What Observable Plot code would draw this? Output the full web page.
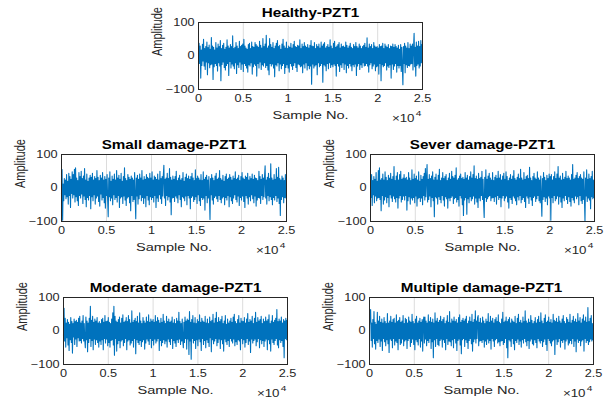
<!DOCTYPE html>
<html><head><meta charset="utf-8">
<script src="https://cdn.jsdelivr.net/npm/d3@7"></script>
<script src="https://cdn.jsdelivr.net/npm/@observablehq/plot@0.6"></script>
<style>
html,body{margin:0;padding:0;background:#fff;}
#fig{position:relative;width:606px;height:399px;background:#fff;overflow:hidden;}
#fig svg{position:absolute;}
</style></head>
<body><div id="fig"></div>
<script>
const titles = ["Healthy-PZT1","Small damage-PZT1","Sever damage-PZT1","Moderate damage-PZT1","Multiple damage-PZT1"];
const xTicks = [0,5000,10000,15000,20000,25000];
const yTicks = [-100,0,100];
const totalSamples = 25000;

const healthy = [
5,38,-22,30,-66,18,-28,35,-15,50,-30,22,-40,28,-18,42,-56,25,-20,33,
-35,20,-26,55,-24,30,-70,26,-32,18,-22,40,-28,24,-45,36,-20,28,-30,46,
-74,22,-25,32,-18,38,-34,20,-42,26,-28,48,-22,30,-58,24,-16,34,-36,28,
-24,60,-30,22,-38,26,-20,40,-52,30,-26,22,-34,44,-18,28,-40,32,-24,36,
-46,50,-22,30,-28,24,-36,20,-48,34,-26,38,-30,22,-20,42,-54,28,-32,26,
-24,40,-28,34,-60,30,-22,26,-36,44,-18,32,-40,24,-26,52,-30,28,-20,36,
-34,62,-28,24,-42,30,-56,52,-22,34,-30,26,-24,40,-36,22,-62,30,-26,38,
-30,46,-20,28,-44,32,-24,20,-38,36,-28,50,-22,30,-52,24,-34,42,-26,22,
-36,30,-48,26,-22,38,-30,24,-40,34,-28,44,-20,28,-34,26,-46,32,-24,30,
-26,48,-32,22,-30,36,-50,28,-24,40,-36,30,-20,26,-42,34,-28,24,-38,32,
-30,46,-84,30,-24,28,-36,40,-30,22,-26,34,-56,28,-20,36,-32,24,-28,42,
-22,30,-78,36,-26,40,-30,24,-44,28,-22,34,-38,26,-20,48,-34,30,-26,22,
-32,38,-24,44,-28,26,-60,30,-22,34,-30,40,-46,24,-26,36,-34,28,-20,30,
-40,26,-24,42,-50,32,-28,24,-36,30,-22,38,-30,26,-44,22,-26,34,-32,28,
-24,40,-58,28,-30,24,-22,36,-40,30,-26,22,-34,28,-20,32,-30,38,-28,26,
-22,54,-30,24,-48,36,-26,28,-20,34,-38,22,-30,40,-24,30,-44,26,-32,28,
-30,24,-54,34,-22,28,-74,30,-26,38,-32,22,-28,36,-20,30,-42,26,-30,34,
-34,22,-26,30,-66,28,-24,36,-40,26,-30,34,-22,28,-48,24,-28,32,-36,20,
-28,34,-46,26,-30,-86,28,-22,38,-50,30,-26,24,-34,40,-28,22,-30,36,-24,
30,-22,36,-42,24,68,-32,26,-60,42,-28,30,-24,44,-36,28,-30,46,-20,34,
4];

const smallDamage = [
-18,55,-96,12,-38,28,-20,24,-32,40,-26,20,-48,44,-22,34,-58,26,-16,48,
-30,40,-20,56,-42,60,-26,30,-38,22,-52,46,-22,34,-30,50,-18,28,-46,36,
-24,58,-34,24,-56,42,-28,20,-36,30,-22,38,-62,32,-26,44,-38,24,-20,34,
-48,28,-30,52,-24,32,-40,22,-54,38,-18,30,-36,46,-28,24,-44,34,-60,26,
-22,40,-32,-86,30,-26,48,-38,20,-30,36,-50,26,-20,42,-34,24,-28,52,-42,
30,-22,38,-58,26,-30,44,-26,20,-46,34,-24,60,-36,28,-52,22,-30,40,-26,
32,-44,26,-68,36,-22,30,-40,24,-34,46,-28,-92,30,-24,38,-48,26,-32,42,
-20,30,-38,52,-28,24,-46,34,-30,26,-56,40,-22,32,-36,28,-50,44,-26,30,
-34,48,-28,24,-42,36,-22,32,-58,26,-30,42,-40,24,-20,50,-32,28,-46,34,
-24,38,68,-30,26,-52,30,-22,44,-36,28,-26,58,-42,32,-80,24,-30,36,-28,
26,-40,34,-24,50,-30,22,-44,30,-20,38,-34,24,-56,28,-26,46,-30,20,-38,
32,-24,42,-50,28,-22,36,-30,26,-62,34,-28,44,-24,30,-40,22,-34,54,-26,
28,-46,36,-20,30,-38,24,-52,40,-28,22,-34,48,-30,26,-66,32,-22,38,-44,
24,-30,34,-26,-94,28,-20,40,-36,30,-48,22,-28,36,-24,44,-32,26,-40,30,
-22,52,-34,28,-44,24,-30,38,-26,20,-50,34,-28,42,-36,26,-22,30,-56,40,
-26,32,-38,24,-46,36,-30,28,-20,48,-34,26,-42,30,-24,38,-52,22,-28,34,
-36,46,-24,30,-40,26,-58,36,-22,32,-30,44,-48,24,-26,34,-38,28,-20,42,
-32,26,-44,38,-24,30,-54,28,-36,22,-28,50,-30,34,-46,26,-22,40,-34,30,
-26,36,66,-30,24,-48,32,-22,44,-38,28,-26,72,-34,30,-50,24,-28,40,-36,
26,-22,58,-40,32,-30,62,-46,28,-82,24,-34,36,-26,30,-44,22,-28,40,-30,
-12];

const severDamage = [
8,-28,40,-52,22,-20,34,-44,26,-24,46,-38,20,-30,52,-28,60,-34,24,-68,
28,-22,42,-48,24,-36,48,-26,32,-44,22,-28,38,-56,30,-20,44,-30,26,-40,
34,-24,64,-32,22,-42,36,-28,46,-60,24,-30,40,-22,50,-42,26,-34,30,-24,
40,-36,28,-22,32,-66,24,-38,46,-26,30,-48,22,-30,54,-36,26,-28,42,-44,
28,-24,36,-54,24,-32,48,-28,20,-40,38,-30,26,-50,34,-22,44,-36,58,-26,
30,70,-42,26,-34,40,-24,28,-56,36,-28,48,-38,24,-86,32,-26,42,-30,24,
-48,38,-26,56,-34,22,-44,30,-22,46,-36,28,-54,34,-26,40,-32,22,-60,30,
-30,44,-38,26,-28,50,-24,34,-46,30,-32,38,-28,60,-42,24,-34,28,-54,36,
-22,42,-30,28,-50,32,-82,26,-36,46,-28,30,-78,38,-32,24,-44,34,-26,48,
-38,30,-32,40,-24,66,-48,28,-30,36,-42,26,-58,44,-30,28,-38,32,-22,50,
-34,26,-46,-88,32,-28,54,-40,26,-32,36,-26,44,-22,30,-38,24,-30,46,-28,
22,-40,32,-26,38,-48,28,-22,50,-34,30,-28,40,-56,24,-30,36,-22,44,-38,
26,-30,48,-24,34,-42,22,-60,30,-28,40,-34,26,-46,36,-24,52,-30,28,-38,
24,-50,32,-26,42,-36,28,-22,56,-44,30,-34,24,-28,46,-40,26,-58,34,-24,
38,-30,28,-46,62,-26,30,-36,22,-52,34,-28,44,-24,30,-40,26,-32,48,-22,
30,-38,24,-44,36,-28,-84,28,-34,46,-26,32,-40,22,-30,38,-50,28,-24,42,
-30,34,-96,40,-28,24,-44,34,-22,48,-38,28,-32,42,-24,64,-48,30,-26,36,
-42,24,-58,44,-30,26,-38,32,-22,50,-34,28,-46,36,-26,30,-40,24,-54,40,
-28,70,-36,26,-44,30,-24,38,-32,46,-26,28,-50,34,-22,40,-38,30,-46,26,
-34,48,-28,-100,30,-24,54,-40,26,-30,42,-36,28,-62,34,-26,50,-32,24,-28,
14];

const moderateDamage = [
-14,68,-30,38,-48,24,-20,34,-42,26,-58,20,-26,40,-34,28,-66,22,-18,36,
-40,28,-24,32,-46,26,-20,38,-30,44,-28,24,-36,30,-22,46,-30,22,-28,-50,
42,-26,30,-62,24,-34,38,-22,74,-46,32,-28,44,-56,26,-24,36,-40,30,-26,
40,-34,24,-48,28,-30,22,-40,34,-26,38,-56,26,-22,46,-36,28,-24,30,-44,
40,-34,26,-48,22,-28,36,-26,54,-42,74,-72,44,-22,30,-60,26,-38,34,-28,
42,-50,24,-30,38,-26,48,-44,26,-34,30,-22,40,-56,28,-30,46,-26,34,-42,
24,-36,60,-28,26,-48,32,-22,38,-68,28,-26,44,-34,24,-40,54,-28,30,-46,
22,-32,40,-26,30,-54,24,-36,42,-24,28,-30,48,-40,26,-22,36,-50,30,-28,
34,-42,26,-24,46,-36,28,-30,40,-22,32,-58,24,-28,38,-44,26,-34,50,-26,
30,-38,22,-30,44,-48,28,-24,36,-32,26,-40,30,-22,42,-52,24,-28,34,-36,
22,-46,38,-26,30,-34,56,-24,28,-40,22,-30,36,-28,-50,26,-34,42,-22,30,
-54,36,-24,32,-70,58,-30,26,-84,34,-22,46,-36,24,-28,40,-52,22,-26,34,
-44,28,-24,48,-32,26,-58,38,-22,30,-40,26,-28,44,-50,24,-26,36,-34,22,
-46,42,-20,28,-62,32,-26,50,-38,24,-30,38,-22,56,-44,26,-34,40,-24,28,
-52,34,-26,44,-38,22,-60,30,-24,46,-32,20,-40,36,-28,24,-46,30,-22,38,
-30,26,-36,42,-24,50,-44,28,-32,22,-40,34,-26,46,-30,24,-56,38,-22,30,
-38,28,-26,40,-48,24,-34,36,-22,52,-40,26,-30,34,-64,30,-24,44,-36,22,
-28,38,-24,56,-44,26,-32,40,-22,30,-50,34,-26,44,-38,22,-28,36,-46,28,
-30,42,-24,30,-56,34,-26,48,-38,22,-60,30,-24,46,-34,26,-40,32,-28,38,
-22,64,-42,28,-50,36,-26,30,-34,42,-28,24,-46,34,-80,30,-22,38,-26,32,
-8];

const multipleDamage = [
18,40,64,-28,24,-48,34,-22,58,-38,26,-54,20,-28,56,-34,30,-24,44,-46,
26,-30,36,-58,24,-22,40,-32,28,-44,22,-26,52,-38,24,-64,30,-24,44,-28,
26,-50,34,-22,38,-42,24,-30,48,-34,28,-56,32,-22,40,-40,26,-36,30,-24,
46,-44,22,-30,38,-26,34,-52,24,-28,42,-22,30,-46,26,-34,50,-24,28,-40,
22,-56,36,-26,44,-32,24,-42,30,-22,38,-48,26,-30,34,-60,28,42,-36,42,
-24,30,-44,24,-28,48,-34,28,-22,40,-52,26,-32,36,-80,24,-26,54,-46,30,
-22,38,-40,26,-44,32,-28,44,-24,28,-48,34,-26,40,-34,22,-56,30,-22,46,
-40,26,-30,58,-32,24,-44,36,-26,30,-50,42,-22,28,-36,34,-58,24,-28,40,
-24,48,-42,26,-68,32,-26,38,-22,30,-46,36,-26,44,-34,22,-52,30,-28,42,
-22,28,-38,50,-60,26,-32,34,-24,60,-36,30,-22,40,46,-44,26,-30,38,-28,
24,-34,42,-26,30,-48,22,-30,36,-40,28,-24,52,-36,26,-28,44,-54,30,-22,
38,-30,24,-46,34,-26,40,-22,28,-36,48,-32,26,-44,22,-30,36,-28,56,-40,
26,-34,30,-22,42,-50,28,-80,34,-26,40,-30,24,-46,36,-22,30,-38,26,-56,
44,-28,22,-34,38,-24,50,-40,26,-30,32,-48,24,-26,42,-36,28,-22,60,-32,
30,-44,24,-28,36,-52,26,-30,46,-24,32,-38,22,-42,28,-26,40,-34,24,-50,
34,-22,44,-30,26,-36,54,-28,30,-46,22,-32,38,-24,48,-40,26,-58,30,-22,
42,-28,26,-36,34,-44,24,-30,50,-26,32,-70,28,-24,38,-40,26,-32,44,-22,
30,-48,24,-28,36,-34,46,-26,28,-54,22,-30,40,-24,34,-42,26,-36,50,-28,
24,-38,32,-22,44,-46,28,-30,36,-62,26,-24,52,-34,30,-28,40,-44,24,-30,
36,-26,48,-60,30,-22,42,-34,26,-28,70,-40,28,-32,38,-24,46,-30,22,-26,
10];

const series = [healthy, smallDamage, severDamage, moderateDamage, multipleDamage];
// frame boxes: left, top, width, height (layout only)
const boxes = [[198,22,224,67],[61,154,225,67],[370,154,224,67],[63,297,224,67],[369,297,224,67]];
const ML = 50, MR = 20, MT = 24, MB = 38;
const SX = 1.27; // horizontal stretch of the reference's lettering
const font = "'Liberation Sans', Arial, Helvetica, sans-serif";
const fig = document.getElementById("fig");

series.forEach((vals, k) => {
  const n = vals.length;
  const data = vals.map((v, i) => ({x: i * totalSamples / (n - 1), y: v}));
  const [bl, bt, bw, bh] = boxes[k];
  const svg = Plot.plot({
    width: bw + ML + MR,
    height: bh + MT + MB,
    marginLeft: ML, marginRight: MR, marginTop: MT, marginBottom: MB,
    style: {fontFamily: font, fontSize: "10px", color: "#262626", background: "transparent", overflow: "visible"},
    x: {domain: [0, totalSamples]},
    y: {domain: [-100, 100]},
    marks: [
      Plot.gridX(xTicks.slice(1, -1), {stroke: "#dcdcdc", strokeOpacity: 1}),
      Plot.line(data, {x: "x", y: "y", stroke: "#0072BD", strokeWidth: 1.1}),
      Plot.frame({stroke: "#262626"}),
      Plot.axisX({ticks: xTicks, tickFormat: d => String(d / 1e4), tickSize: 0, tickPadding: 5, label: null, fontSize: 10}),
      Plot.axisY({ticks: yTicks, tickSize: 0, tickPadding: 4, label: null, fontSize: 10}),
      Plot.text(["Sample No."], {frameAnchor: "bottom", lineAnchor: "middle", dy: 26, fontSize: 11.5}),
      Plot.text(["×10"], {frameAnchor: "bottom-right", lineAnchor: "middle", dy: 29, dx: -8, textAnchor: "end", fontSize: 10.5}),
      Plot.text(["4"], {frameAnchor: "bottom-right", lineAnchor: "middle", dy: 24, dx: -1, textAnchor: "end", fontSize: 8}),
      Plot.text(["Amplitude"], {frameAnchor: "left", lineAnchor: "middle", dx: -41, rotate: -90, fontSize: 11}),
      Plot.text([titles[k]], {frameAnchor: "top", lineAnchor: "middle", dy: -9, fontWeight: "bold", fontSize: 12, fill: "#000"})
    ]
  });
  // stretch lettering horizontally like the reference
  svg.querySelectorAll("text").forEach(t => {
    const tr = t.getAttribute("transform");
    if (tr) {
      t.setAttribute("transform", tr + (tr.includes("rotate") ? ` scale(1,${SX})` : ` scale(${SX},1)`));
    } else {
      const x = +(t.getAttribute("x") || 0), y = +(t.getAttribute("y") || 0);
      t.setAttribute("transform", `translate(${x},${y}) scale(${SX},1) translate(${-x},${-y})`);
    }
  });
  svg.style.left = (bl - ML) + "px";
  svg.style.top = (bt - MT) + "px";
  fig.appendChild(svg);
});
</script>
</body></html>
